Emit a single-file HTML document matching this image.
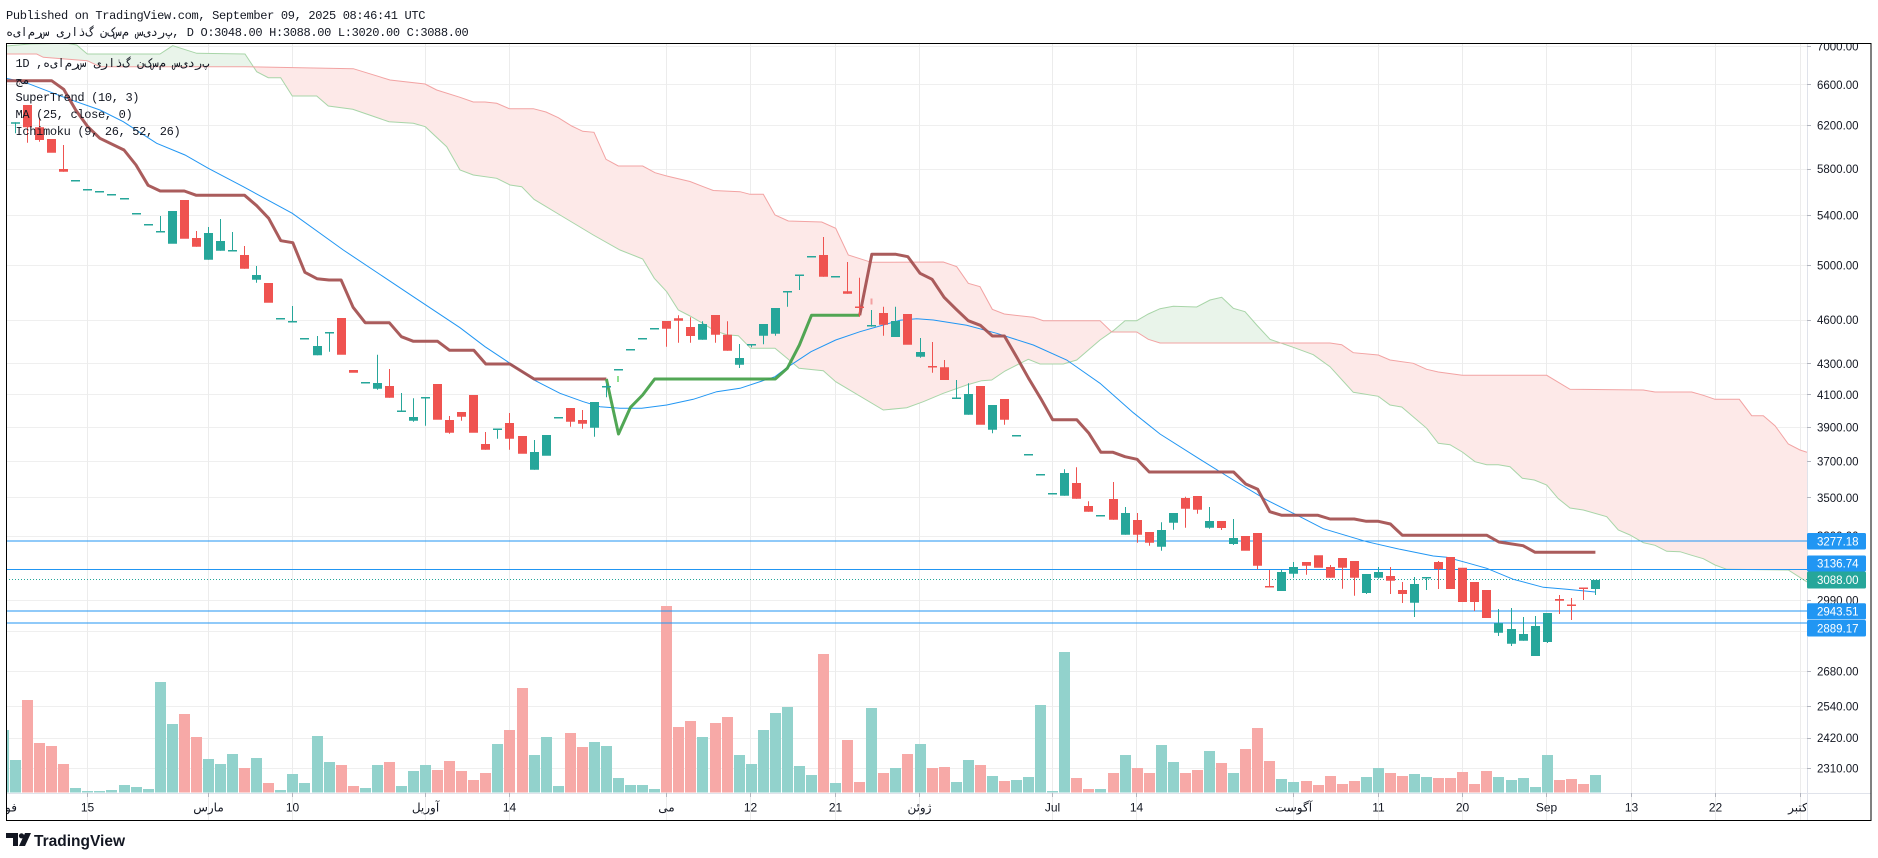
<!DOCTYPE html>
<html><head><meta charset="utf-8">
<style>
html,body{margin:0;padding:0;background:#fff;}
body{width:1878px;height:858px;position:relative;overflow:hidden;}
.mono{position:absolute;font-family:"Liberation Mono","DejaVu Sans Mono","DejaVu Sans",monospace;font-size:12px;letter-spacing:-0.33px;line-height:14px;color:#131722;white-space:pre;direction:ltr;}
svg{position:absolute;left:0;top:0;}
</style></head><body>
<svg width="1878" height="858" viewBox="0 0 1878 858" xmlns="http://www.w3.org/2000/svg">
<defs>
<clipPath id="pane"><rect x="6" y="43" width="1801" height="750"/></clipPath>
<clipPath id="axisY"><rect x="1807" y="43" width="64" height="750"/></clipPath>
<clipPath id="axisX"><rect x="6" y="793" width="1801" height="27"/></clipPath>
<clipPath id="belowB"><polygon points="6,54 36.7,54 43.3,57.3 87.3,60.7 100,66.7 245,66.7 353.3,68.7 390,80 425,84 436.7,90 460,97.3 473.3,102 485,102 496.7,103.3 509.3,108.7 533.3,108.7 546,112 558.3,117.7 571.7,126 582.7,131.3 594,132.3 606,159.3 618.3,166 642.7,166 655,172.7 666.7,176 690,181.5 703.3,186.7 713.3,190.5 740,191.7 750,194.3 763.3,194.3 775,215 788.3,221 821.7,222 835.7,228.3 848.3,255 871.3,262.3 943.3,262 956.7,266.7 968.3,283.3 980,286.7 992.3,309.3 1004.3,314 1033.3,317.3 1043.3,320.7 1100,320.7 1111.7,332 1136.7,332 1148.3,339.3 1160,343 1330,343 1341.7,344.7 1353.3,352.7 1378.3,355 1390,360 1413.3,363.3 1426.7,369.3 1438.3,372 1462.3,375.3 1546.7,375.3 1570,389.3 1643.3,390 1655,392 1691.7,392 1703.3,395.3 1715,399.3 1739.3,399.3 1751.7,415.7 1763.3,415.7 1775,425.7 1788.3,444 1800,450 1807,452.3 1807,800 6,800"/></clipPath>
<clipPath id="aboveB"><polygon points="6,54 36.7,54 43.3,57.3 87.3,60.7 100,66.7 245,66.7 353.3,68.7 390,80 425,84 436.7,90 460,97.3 473.3,102 485,102 496.7,103.3 509.3,108.7 533.3,108.7 546,112 558.3,117.7 571.7,126 582.7,131.3 594,132.3 606,159.3 618.3,166 642.7,166 655,172.7 666.7,176 690,181.5 703.3,186.7 713.3,190.5 740,191.7 750,194.3 763.3,194.3 775,215 788.3,221 821.7,222 835.7,228.3 848.3,255 871.3,262.3 943.3,262 956.7,266.7 968.3,283.3 980,286.7 992.3,309.3 1004.3,314 1033.3,317.3 1043.3,320.7 1100,320.7 1111.7,332 1136.7,332 1148.3,339.3 1160,343 1330,343 1341.7,344.7 1353.3,352.7 1378.3,355 1390,360 1413.3,363.3 1426.7,369.3 1438.3,372 1462.3,375.3 1546.7,375.3 1570,389.3 1643.3,390 1655,392 1691.7,392 1703.3,395.3 1715,399.3 1739.3,399.3 1751.7,415.7 1763.3,415.7 1775,425.7 1788.3,444 1800,450 1807,452.3 1807,0 6,0"/></clipPath>
</defs>

<!-- grid -->
<path d="M6,46.5H1807M6,84.5H1807M6,125.5H1807M6,169.5H1807M6,215.5H1807M6,265.5H1807M6,320.5H1807M6,363.5H1807M6,394.5H1807M6,427.5H1807M6,461.5H1807M6,497.5H1807M6,536.5H1807M6,600.5H1807M6,631.5H1807M6,671.5H1807M6,706.5H1807M6,738.5H1807M6,768.5H1807" stroke="#efefef" stroke-width="1" fill="none"/>
<path d="M87.5,43V820M208.5,43V820M292.5,43V820M425.5,43V820M509.5,43V820M666.5,43V820M750.5,43V820M835.5,43V820M919.5,43V820M1052.5,43V820M1136.5,43V820M1293.5,43V820M1378.5,43V820M1462.5,43V820M1546.5,43V820M1631.5,43V820M1715.5,43V820M1800.5,43V820" stroke="#ececec" stroke-width="1" fill="none"/>

<g clip-path="url(#pane)">
<!-- volume -->
<path fill="#92d2cc" d="M-2,730h11V792.5h-11zM10,760h11V792.5h-11zM70,788h11V792.5h-11zM82,791h11V792.5h-11zM94,791h11V792.5h-11zM106,790h11V792.5h-11zM119,785h11V792.5h-11zM131,787h11V792.5h-11zM143,789h11V792.5h-11zM155,682h11V792.5h-11zM167,724h11V792.5h-11zM203,759h11V792.5h-11zM215,764h11V792.5h-11zM227,754h11V792.5h-11zM251,758h11V792.5h-11zM275,790h11V792.5h-11zM287,774h11V792.5h-11zM299,783h11V792.5h-11zM312,736h11V792.5h-11zM324,762h11V792.5h-11zM360,788h11V792.5h-11zM372,765h11V792.5h-11zM396,786h11V792.5h-11zM408,771h11V792.5h-11zM420,765h11V792.5h-11zM492,744h11V792.5h-11zM529,755h11V792.5h-11zM541,737h11V792.5h-11zM553,786h11V792.5h-11zM589,742h11V792.5h-11zM601,746h11V792.5h-11zM613,778h11V792.5h-11zM625,785h11V792.5h-11zM637,785h11V792.5h-11zM649,789h11V792.5h-11zM697,737h11V792.5h-11zM734,755h11V792.5h-11zM746,764h11V792.5h-11zM758,730h11V792.5h-11zM770,713h11V792.5h-11zM782,707h11V792.5h-11zM794,766h11V792.5h-11zM806,775h11V792.5h-11zM830,783h11V792.5h-11zM866,708h11V792.5h-11zM890,768h11V792.5h-11zM915,744h11V792.5h-11zM951,782h11V792.5h-11zM963,760h11V792.5h-11zM987,776h11V792.5h-11zM1011,780h11V792.5h-11zM1023,777h11V792.5h-11zM1035,705h11V792.5h-11zM1047,791h11V792.5h-11zM1059,652h11V792.5h-11zM1095,789h11V792.5h-11zM1120,755h11V792.5h-11zM1156,745h11V792.5h-11zM1168,762h11V792.5h-11zM1204,751h11V792.5h-11zM1228,773h11V792.5h-11zM1276,779h11V792.5h-11zM1288,782h11V792.5h-11zM1361,777h11V792.5h-11zM1373,768h11V792.5h-11zM1409,774h11V792.5h-11zM1421,777h11V792.5h-11zM1493,777h11V792.5h-11zM1506,780h11V792.5h-11zM1518,778h11V792.5h-11zM1530,787h11V792.5h-11zM1542,755h11V792.5h-11zM1590,775h11V792.5h-11z"/>
<path fill="#f7a9a7" d="M22,700h11V792.5h-11zM34,743h11V792.5h-11zM46,746h11V792.5h-11zM58,764h11V792.5h-11zM179,714h11V792.5h-11zM191,737h11V792.5h-11zM239,768h11V792.5h-11zM263,783h11V792.5h-11zM336,765h11V792.5h-11zM348,786h11V792.5h-11zM384,762h11V792.5h-11zM432,770h11V792.5h-11zM444,761h11V792.5h-11zM456,771h11V792.5h-11zM468,780h11V792.5h-11zM480,773h11V792.5h-11zM504,730h11V792.5h-11zM517,688h11V792.5h-11zM565,733h11V792.5h-11zM577,747h11V792.5h-11zM661,606h11V792.5h-11zM673,727h11V792.5h-11zM685,721h11V792.5h-11zM710,723h11V792.5h-11zM722,717h11V792.5h-11zM818,654h11V792.5h-11zM842,740h11V792.5h-11zM854,782h11V792.5h-11zM878,773h11V792.5h-11zM902,754h11V792.5h-11zM927,768h11V792.5h-11zM939,767h11V792.5h-11zM975,765h11V792.5h-11zM999,781h11V792.5h-11zM1071,778h11V792.5h-11zM1083,789h11V792.5h-11zM1108,773h11V792.5h-11zM1132,768h11V792.5h-11zM1144,773h11V792.5h-11zM1180,773h11V792.5h-11zM1192,770h11V792.5h-11zM1216,763h11V792.5h-11zM1240,749h11V792.5h-11zM1252,728h11V792.5h-11zM1264,761h11V792.5h-11zM1301,781h11V792.5h-11zM1313,785h11V792.5h-11zM1325,776h11V792.5h-11zM1337,784h11V792.5h-11zM1349,781h11V792.5h-11zM1385,773h11V792.5h-11zM1397,776h11V792.5h-11zM1433,778h11V792.5h-11zM1445,778h11V792.5h-11zM1457,772h11V792.5h-11zM1469,784h11V792.5h-11zM1481,771h11V792.5h-11zM1554,780h11V792.5h-11zM1566,779h11V792.5h-11zM1578,784h11V792.5h-11z"/>

<!-- ichimoku cloud -->
<polygon clip-path="url(#belowB)" fill="#fde9e8" points="6,46 30,44 66.7,43.3 76.7,45 87.3,54 160,54 172.7,45.7 196.7,53.3 245,54 256.7,71.7 268.3,77.7 280.7,77.7 292.3,96 316.7,96 328.3,106 352.7,109.3 389,121.7 413.3,123.3 425.3,126.7 446.7,146.7 460,170 473.3,175 496.7,178.3 510,185 521.7,186.7 534,199.3 560,215 593.3,235 620,250 642.7,259 654.3,278.3 666.7,291.7 678.3,310 690,316 702.7,323.3 714.7,330.7 726.7,334.7 738.3,335.7 750.7,348.3 775,348.3 788.3,359.3 799,368.3 823.3,370.7 835.7,381.7 883.3,410 906.7,407.7 923.3,401.7 943.3,393.3 966.7,385 981.7,380.7 991.7,380 1005,371 1028.3,359.3 1040,364 1063.3,364 1076.7,360 1100,340 1113.3,330.7 1125,320.7 1136.7,320.7 1148.3,314 1160,308.7 1173.3,306.3 1196.7,307 1210,300 1221.7,297.3 1233.3,308.3 1245,311.7 1256.7,325 1270,339.3 1293.3,347.3 1313.3,354.7 1330,366.7 1353.3,392.3 1378.3,396.3 1390,405 1401.7,407 1426.7,428.3 1438.3,443.3 1450,444.7 1462.3,452 1475,461.7 1486.7,464.7 1498.3,464.7 1510,466.7 1522.3,478.3 1534.3,480 1546.7,485 1558.3,498.7 1570,508 1583.3,510 1606.7,516.7 1618.3,530 1630,535 1643.3,542.7 1655,545.3 1666.7,551.3 1680,551.7 1691.7,555.3 1703.3,558.7 1715,565 1726.7,569.3 1788.3,570 1807,582 1807,0 6,0"/>
<polygon clip-path="url(#aboveB)" fill="#e9f4ea" points="6,46 30,44 66.7,43.3 76.7,45 87.3,54 160,54 172.7,45.7 196.7,53.3 245,54 256.7,71.7 268.3,77.7 280.7,77.7 292.3,96 316.7,96 328.3,106 352.7,109.3 389,121.7 413.3,123.3 425.3,126.7 446.7,146.7 460,170 473.3,175 496.7,178.3 510,185 521.7,186.7 534,199.3 560,215 593.3,235 620,250 642.7,259 654.3,278.3 666.7,291.7 678.3,310 690,316 702.7,323.3 714.7,330.7 726.7,334.7 738.3,335.7 750.7,348.3 775,348.3 788.3,359.3 799,368.3 823.3,370.7 835.7,381.7 883.3,410 906.7,407.7 923.3,401.7 943.3,393.3 966.7,385 981.7,380.7 991.7,380 1005,371 1028.3,359.3 1040,364 1063.3,364 1076.7,360 1100,340 1113.3,330.7 1125,320.7 1136.7,320.7 1148.3,314 1160,308.7 1173.3,306.3 1196.7,307 1210,300 1221.7,297.3 1233.3,308.3 1245,311.7 1256.7,325 1270,339.3 1293.3,347.3 1313.3,354.7 1330,366.7 1353.3,392.3 1378.3,396.3 1390,405 1401.7,407 1426.7,428.3 1438.3,443.3 1450,444.7 1462.3,452 1475,461.7 1486.7,464.7 1498.3,464.7 1510,466.7 1522.3,478.3 1534.3,480 1546.7,485 1558.3,498.7 1570,508 1583.3,510 1606.7,516.7 1618.3,530 1630,535 1643.3,542.7 1655,545.3 1666.7,551.3 1680,551.7 1691.7,555.3 1703.3,558.7 1715,565 1726.7,569.3 1788.3,570 1807,582 1807,800 6,800"/>
<polyline fill="none" stroke="#a8d5a8" stroke-width="1" points="6,46 30,44 66.7,43.3 76.7,45 87.3,54 160,54 172.7,45.7 196.7,53.3 245,54 256.7,71.7 268.3,77.7 280.7,77.7 292.3,96 316.7,96 328.3,106 352.7,109.3 389,121.7 413.3,123.3 425.3,126.7 446.7,146.7 460,170 473.3,175 496.7,178.3 510,185 521.7,186.7 534,199.3 560,215 593.3,235 620,250 642.7,259 654.3,278.3 666.7,291.7 678.3,310 690,316 702.7,323.3 714.7,330.7 726.7,334.7 738.3,335.7 750.7,348.3 775,348.3 788.3,359.3 799,368.3 823.3,370.7 835.7,381.7 883.3,410 906.7,407.7 923.3,401.7 943.3,393.3 966.7,385 981.7,380.7 991.7,380 1005,371 1028.3,359.3 1040,364 1063.3,364 1076.7,360 1100,340 1113.3,330.7 1125,320.7 1136.7,320.7 1148.3,314 1160,308.7 1173.3,306.3 1196.7,307 1210,300 1221.7,297.3 1233.3,308.3 1245,311.7 1256.7,325 1270,339.3 1293.3,347.3 1313.3,354.7 1330,366.7 1353.3,392.3 1378.3,396.3 1390,405 1401.7,407 1426.7,428.3 1438.3,443.3 1450,444.7 1462.3,452 1475,461.7 1486.7,464.7 1498.3,464.7 1510,466.7 1522.3,478.3 1534.3,480 1546.7,485 1558.3,498.7 1570,508 1583.3,510 1606.7,516.7 1618.3,530 1630,535 1643.3,542.7 1655,545.3 1666.7,551.3 1680,551.7 1691.7,555.3 1703.3,558.7 1715,565 1726.7,569.3 1788.3,570 1807,582"/>
<polyline fill="none" stroke="#f2a3a3" stroke-width="1" points="6,54 36.7,54 43.3,57.3 87.3,60.7 100,66.7 245,66.7 353.3,68.7 390,80 425,84 436.7,90 460,97.3 473.3,102 485,102 496.7,103.3 509.3,108.7 533.3,108.7 546,112 558.3,117.7 571.7,126 582.7,131.3 594,132.3 606,159.3 618.3,166 642.7,166 655,172.7 666.7,176 690,181.5 703.3,186.7 713.3,190.5 740,191.7 750,194.3 763.3,194.3 775,215 788.3,221 821.7,222 835.7,228.3 848.3,255 871.3,262.3 943.3,262 956.7,266.7 968.3,283.3 980,286.7 992.3,309.3 1004.3,314 1033.3,317.3 1043.3,320.7 1100,320.7 1111.7,332 1136.7,332 1148.3,339.3 1160,343 1330,343 1341.7,344.7 1353.3,352.7 1378.3,355 1390,360 1413.3,363.3 1426.7,369.3 1438.3,372 1462.3,375.3 1546.7,375.3 1570,389.3 1643.3,390 1655,392 1691.7,392 1703.3,395.3 1715,399.3 1739.3,399.3 1751.7,415.7 1763.3,415.7 1775,425.7 1788.3,444 1800,450 1807,452.3"/>

<!-- horizontal lines -->
<path d="M6,541H1807M6,569.5H1807M6,611H1807M6,623H1807" stroke="#2196f3" stroke-width="1" fill="none"/>
<path d="M6,579.5H1807" stroke="#26a69a" stroke-width="1" stroke-dasharray="1 2" fill="none"/>

<!-- MA -->
<polyline fill="none" stroke="#2196f3" stroke-width="1" points="6,78.3 25,82.3 66.7,98.3 100,110 123.3,121.7 156.7,143.3 185,155 208.3,168.3 243.3,186.7 292.3,213.3 343.3,250 413.3,296.7 460,327.7 485,346.7 510,363.3 534,380 560,393.3 583.3,401.7 600,406.7 620,408.3 641.7,408.3 666.7,405 693.3,399.3 716.7,391.7 740,388.3 775,376.7 788.3,366.7 811,351.7 835.7,340 860,331.7 883.3,325 900,320.3 916.7,318.7 933.3,320 966.7,325.3 996.7,333.3 1033.3,345 1066.7,360 1100,383.3 1133.3,412.7 1160,434 1200,459.3 1233.3,480 1266.7,500 1300,516.7 1323.3,528.7 1366.7,541.7 1400,549.3 1433.3,556 1446.7,557.3 1466.7,562.7 1486.7,568.3 1513.3,579.3 1543.3,587.3 1566.7,589.3 1595.3,592"/>

<!-- SuperTrend -->
<g fill="none" stroke-width="3" stroke-linejoin="round" stroke-linecap="butt" opacity="0.92">
<polyline stroke="#a34e4e" points="3.4,80.7 51.6,80.7 63.7,89.3 75.7,110 87.8,126.7 99.9,138.3 124,150 136,165 148.1,185.3 160.2,191 184.3,191 196.3,195.3 244.6,195.3 256.7,205.7 268.7,218.3 280.8,240.7 292.8,242.7 304.9,272.3 317,278.7 329,280 341.1,280 353.1,307.3 365.2,322.7 389.3,322.7 401.4,336.7 413.4,341.3 437.6,341.3 449.6,350.3 473.8,350.3 485.8,364 509.9,364 534.1,379 606.4,379"/>
<polyline stroke="#43a047" points="606.4,379 618.5,434 630.5,407.3 642.6,395 654.7,379 775.3,379 787.3,368.3 799.4,345 811.5,315.3 859.7,315.3"/>
<polyline stroke="#a34e4e" points="859.7,315.3 871.8,254.3 895.9,254.3 907.9,256.7 920,273.3 932.1,279.3 944.1,297.3 956.2,309.3 968.2,320.7 980.3,325.3 992.4,336 1004.4,336 1016.5,356.7 1028.6,378.3 1040.6,398.3 1052.7,419.7 1076.8,419.7 1088.9,433.3 1100.9,452.3 1113,452.3 1125,456.7 1137.1,459.3 1149.2,472 1233.6,472 1245.7,484 1257.7,489.3 1269.8,511.7 1281.8,515.3 1318,515.3 1330.1,519 1354.2,519 1366.3,521.3 1378.3,521.3 1390.4,524 1402.4,535.3 1486.9,535.3 1498.9,542 1523.1,545.7 1535.1,552.3 1595.4,552.3"/>
</g>

<!-- candles -->
<path stroke="#26a69a" stroke-width="1" fill="none" d="M15.5,122.3V133.3M160.5,216V231.3M208.5,227V259.7M220.5,219V250.7M232.5,232V250.3M256.5,266V282.7M292.5,306V321.3M317.5,336V355.3M329.5,332.3V351.7M377.5,354.7V389.7M401.5,393V411M413.5,398.3V421.7M425.5,397V425.7M497.5,429V438.7M534.5,440V469.7M594.5,402V436.7M606.5,383.3V397.3M702.5,321.3V339.7M739.5,344V368M751.5,344V347.3M763.5,324V344.3M775.5,308V335.7M787.5,291.3V306.7M799.5,274.7V290M871.5,310V326.7M895.5,306.7V337M920.5,338V357.7M956.5,380V398M968.5,383.3V414.7M992.5,405V433.3M1064.5,469.3V495.7M1125.5,507V534.7M1161.5,522.3V550.7M1173.5,513V529.7M1209.5,507V528.7M1233.5,519V545M1281.5,570V591M1293.5,562V577.7M1366.5,574V594M1378.5,567V578.7M1414.5,577V617M1426.5,577V590M1498.5,609V636M1511.5,608V646M1523.5,617V640.7M1535.5,616V656M1547.5,613V643M1595.5,580V595"/>
<path fill="#26a69a" d="M11,122.3h9v1.5h-9zM71,180h9v1.5h-9zM83,189h9v1.5h-9zM95,191h9v1.5h-9zM107,194h9v1.5h-9zM120,198h9v1.5h-9zM132,213h9v1.5h-9zM144,224h9v1.5h-9zM156,231h9v1.5h-9zM168,211h9v32.7h-9zM204,233h9v26.7h-9zM216,241h9v9.7h-9zM228,250h9v1.5h-9zM252,275h9v4.7h-9zM276,318h9v1.5h-9zM288,321h9v1.5h-9zM300,338h9v1.5h-9zM313,346h9v9.3h-9zM325,332h9v1.5h-9zM361,382h9v1.5h-9zM373,383h9v5.7h-9zM397,410.5h9v1.5h-9zM409,417h9v3.7h-9zM421,397h9v1.5h-9zM493,428.5h9v1.5h-9zM530,452h9v17.7h-9zM542,435h9v20.7h-9zM554,417h9v1.5h-9zM590,402h9v25.7h-9zM602,386h9v1.5h-9zM614,369h9v1.5h-9zM626,349h9v1.5h-9zM638,338h9v1.5h-9zM650,328h9v1.5h-9zM698,324h9v15.7h-9zM735,358h9v6.7h-9zM747,344h9v1.5h-9zM759,324h9v11.7h-9zM771,308h9v25.7h-9zM783,291h9v1.5h-9zM795,274.5h9v1.5h-9zM807,256h9v1.5h-9zM831,276h9v1.5h-9zM867,325h9v1.5h-9zM891,321h9v16h-9zM916,352h9v4.7h-9zM952,397.5h9v1.5h-9zM964,394h9v20.7h-9zM988,405h9v24.7h-9zM1012,435h9v1.5h-9zM1024,454h9v1.5h-9zM1036,474h9v1.5h-9zM1048,493h9v1.5h-9zM1060,473h9v22.7h-9zM1096,515h9v1.5h-9zM1121,513h9v21.7h-9zM1157,530h9v16.7h-9zM1169,513h9v9.7h-9zM1205,521h9v6.7h-9zM1229,538h9v6h-9zM1277,572h9v19h-9zM1289,567h9v6.7h-9zM1362,574h9v19h-9zM1374,572h9v5.7h-9zM1410,584h9v18.7h-9zM1422,577h9v1.5h-9zM1494,623.3h9v9.4h-9zM1507,629h9v14.7h-9zM1519,634h9v6.7h-9zM1531,626h9v30h-9zM1543,613h9v29h-9zM1591,580h9v9h-9z"/>
<path stroke="#ef5350" stroke-width="1" fill="none" d="M27.5,105V142.7M39.5,118.3V141.7M63.5,145V171.7M196.5,231V246.7M244.5,246V268.7M389.5,369V397.7M449.5,416V433.7M461.5,412V420.7M485.5,432V449.7M509.5,413V449.7M570.5,408V426.7M582.5,410V428.7M666.5,321V346.7M678.5,315.3V342.7M690.5,317.3V342.7M715.5,315V342.7M727.5,321.3V350.7M823.5,237V276.7M847.5,262V293.7M859.5,277.7V316.7M883.5,306.7V335.7M932.5,342V372.7M944.5,360V380M1004.5,399V424.7M1076.5,467.3V498.7M1088.5,501.3V511.7M1113.5,482V519.7M1137.5,513V542.7M1149.5,532V545.7M1185.5,496.7V527.7M1197.5,496V513.7M1221.5,521V530M1257.5,533V569.3M1269.5,570V586.3M1306.5,562V574.7M1330.5,565V577.7M1342.5,558V588.7M1354.5,561V595.7M1390.5,567V594M1402.5,582V603M1438.5,561V589M1474.5,582V611M1559.5,595V614M1571.5,598V620M1583.5,588V600"/>
<path fill="#ef5350" d="M23,105h9v22.3h-9zM35,127.3h9v12.7h-9zM47,139h9v13.7h-9zM59,169h9v2.7h-9zM180,200h9v38.7h-9zM192,238h9v8.7h-9zM240,255h9v13.7h-9zM264,283h9v19.7h-9zM337,318h9v36.7h-9zM349,370h9v2.7h-9zM385,386h9v11.7h-9zM433,384h9v35.7h-9zM445,420h9v12.7h-9zM457,412h9v4.7h-9zM469,395h9v37.7h-9zM481,444h9v5.7h-9zM505,423h9v15.7h-9zM518,436h9v17.7h-9zM566,408h9v13.7h-9zM578,420h9v3.7h-9zM662,321h9v7.7h-9zM674,318.3h9v2.4h-9zM686,327h9v9h-9zM711,315h9v19.7h-9zM723,334.7h9v16h-9zM819,255h9v21.7h-9zM843,291.3h9v2.4h-9zM855,306.5h9v1.5h-9zM879,313h9v11.7h-9zM903,314h9v30.7h-9zM928,366h9v1.5h-9zM940,367.3h9v12.7h-9zM976,386h9v38.7h-9zM1000,399h9v20.7h-9zM1072,483h9v15.7h-9zM1084,506h9v5.7h-9zM1109,499h9v20.7h-9zM1133,520h9v14.7h-9zM1145,532h9v10.7h-9zM1181,498h9v10.7h-9zM1193,496h9v13.7h-9zM1217,521h9v7h-9zM1241,536h9v14.7h-9zM1253,533h9v32.7h-9zM1265,586h9v1.5h-9zM1302,562h9v3.7h-9zM1314,555.3h9v12.4h-9zM1326,567h9v10.7h-9zM1338,558h9v9.7h-9zM1350,561h9v16.7h-9zM1386,576h9v4.7h-9zM1398,590h9v4h-9zM1434,562h9v7h-9zM1446,557h9v32h-9zM1458,567.7h9v34.3h-9zM1470,582h9v20h-9zM1482,590h9v28h-9zM1555,599h9v1.7h-9zM1567,604.5h9v1.5h-9zM1579,587.5h9v1.5h-9z"/>
<rect x="617" y="376" width="2" height="6" fill="#8fe08f"/>
<rect x="870.5" y="298.5" width="2" height="6" fill="#f2a0a0"/>
</g>

<!-- axes separators -->
<path d="M6,793.5H1871M1807.5,43V820" stroke="#e0e3eb" stroke-width="1" fill="none"/>

<!-- price axis -->
<g clip-path="url(#axisY)">
<path d="M1807,46.5h4M1807,84.5h4M1807,125.5h4M1807,169.5h4M1807,215.5h4M1807,265.5h4M1807,320.5h4M1807,363.5h4M1807,394.5h4M1807,427.5h4M1807,461.5h4M1807,497.5h4M1807,536.5h4M1807,600.5h4M1807,631.5h4M1807,671.5h4M1807,706.5h4M1807,738.5h4M1807,768.5h4" stroke="#b2b5be" stroke-width="1"/>
<g font-family="Liberation Sans, DejaVu Sans, sans-serif" font-size="11.5" fill="#131722">
<text x="1817" y="50.6">7000.00</text>
<text x="1817" y="88.9">6600.00</text>
<text x="1817" y="129.7">6200.00</text>
<text x="1817" y="173.1">5800.00</text>
<text x="1817" y="219.6">5400.00</text>
<text x="1817" y="269.7">5000.00</text>
<text x="1817" y="324">4600.00</text>
<text x="1817" y="367.9">4300.00</text>
<text x="1817" y="398.9">4100.00</text>
<text x="1817" y="431.5">3900.00</text>
<text x="1817" y="465.7">3700.00</text>
<text x="1817" y="501.9">3500.00</text>
<text x="1817" y="540.2">3300.00</text>
<text x="1817" y="604.4">2990.00</text>
<text x="1817" y="635.7">2850.00</text>
<text x="1817" y="675.7">2680.00</text>
<text x="1817" y="710.6">2540.00</text>
<text x="1817" y="742.1">2420.00</text>
<text x="1817" y="772.4">2310.00</text>
</g>
<rect x="1807" y="533" width="59" height="16.5" rx="1.5" fill="#2196f3"/>
<rect x="1807" y="555.5" width="59" height="16" rx="1.5" fill="#2196f3"/>
<rect x="1807" y="571.5" width="59" height="17" rx="1.5" fill="#26a69a"/>
<rect x="1807" y="603.3" width="59" height="16.2" rx="1.5" fill="#2196f3"/>
<rect x="1807" y="620" width="59" height="16.5" rx="1.5" fill="#2196f3"/>
<g font-family="Liberation Sans, DejaVu Sans, sans-serif" font-size="11.5" fill="#ffffff">
<text x="1817" y="545.3">3277.18</text>
<text x="1817" y="567.5">3136.74</text>
<text x="1817" y="584">3088.00</text>
<text x="1817" y="615.5">2943.51</text>
<text x="1817" y="632.3">2889.17</text>
</g>
</g>

<!-- time axis -->
<path d="M87.5,793V797M208.5,793V797M292.5,793V797M425.5,793V797M509.5,793V797M666.5,793V797M750.5,793V797M835.5,793V797M919.5,793V797M1052.5,793V797M1136.5,793V797M1293.5,793V797M1378.5,793V797M1462.5,793V797M1546.5,793V797M1631.5,793V797M1715.5,793V797M1800.5,793V797" stroke="#b2b5be" stroke-width="1"/>
<g clip-path="url(#axisX)" font-family="Liberation Sans, DejaVu Sans, sans-serif" font-size="12" fill="#131722" text-anchor="middle">
<text x="17" y="811.5" text-anchor="end">فوریه</text>
<text x="87.5" y="811.5">15</text>
<text x="208.5" y="811.5">مارس</text>
<text x="292.5" y="811.5">10</text>
<text x="425.5" y="811.5">آوریل</text>
<text x="509.5" y="811.5">14</text>
<text x="666.5" y="811.5">می</text>
<text x="750.5" y="811.5">12</text>
<text x="835.5" y="811.5">21</text>
<text x="919.5" y="811.5">ژوئن</text>
<text x="1052.5" y="811.5">Jul</text>
<text x="1136.5" y="811.5">14</text>
<text x="1293.5" y="811.5">آگوست</text>
<text x="1378.5" y="811.5">11</text>
<text x="1462.5" y="811.5">20</text>
<text x="1546.5" y="811.5">Sep</text>
<text x="1631.5" y="811.5">13</text>
<text x="1715.5" y="811.5">22</text>
<text x="1811" y="811.5" text-anchor="end">اکتبر</text>
</g>

<!-- frame -->
<rect x="6.5" y="43.5" width="1864.5" height="777" fill="none" stroke="#000" stroke-width="1"/>

<!-- TradingView logo -->
<g fill="#131722">
<path d="M6,833h12v13h-5v-8h-7z"/>
<circle cx="21.5" cy="835.8" r="2.6"/>
<path d="M25,833h6l-6,13h-6z"/>
</g>
<text x="34" y="846" font-family="Liberation Sans, DejaVu Sans, sans-serif" font-size="15.5" font-weight="bold" fill="#131722">TradingView</text>
</svg>

<div class="mono" style="left:6px;top:9px;">Published on TradingView.com, September 09, 2025 08:46:41 UTC</div>
<div class="mono" style="left:6px;top:26px;"><bdi>س&zwnj;ر&zwnj;م&zwnj;ا&zwnj;ی&zwnj;ه</bdi> <bdi>گ&zwnj;ذ&zwnj;ا&zwnj;ر&zwnj;ی</bdi> <bdi>م&zwnj;س&zwnj;ک&zwnj;ن</bdi> <bdi>پ&zwnj;ر&zwnj;د&zwnj;ی&zwnj;س</bdi>, D O:3048.00 H:3088.00 L:3020.00 C:3088.00</div>
<div class="mono" style="left:15.5px;top:57px;">1D ,<bdi>س&zwnj;ر&zwnj;م&zwnj;ا&zwnj;ی&zwnj;ه</bdi> <bdi>گ&zwnj;ذ&zwnj;ا&zwnj;ر&zwnj;ی</bdi> <bdi>م&zwnj;س&zwnj;ک&zwnj;ن</bdi> <bdi>پ&zwnj;ر&zwnj;د&zwnj;ی&zwnj;س</bdi></div>
<div class="mono" style="left:15.5px;top:74px;">مج</div>
<div class="mono" style="left:15.5px;top:91px;">SuperTrend (10, 3)</div>
<div class="mono" style="left:15.5px;top:108px;">MA (25, close, 0)</div>
<div class="mono" style="left:15.5px;top:125px;">Ichimoku (9, 26, 52, 26)</div>
</body></html>
